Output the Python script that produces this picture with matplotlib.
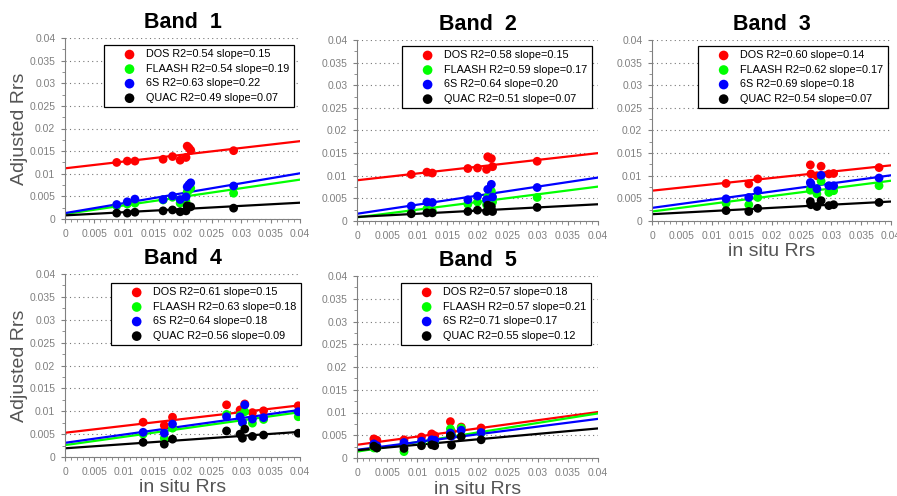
import matplotlib
matplotlib.use("Agg")
import matplotlib.pyplot as plt
from matplotlib.ticker import MultipleLocator, FuncFormatter
import numpy as np

plt.rcParams['font.family'] = ['Liberation Sans', 'DejaVu Sans']

# ---------------- data ----------------
methods = ["DOS", "FLAASH", "6S", "QUAC"]
colors = ["#ff0000", "#00ff00", "#0000ff", "#000000"]

band_titles = ["Band  1", "Band  2", "Band  3", "Band  4", "Band  5"]

# in situ Rrs (x) per band
x_b1 = [0.0088, 0.0106, 0.0119, 0.0167, 0.0183, 0.0196, 0.0206, 0.0208, 0.0211, 0.0214, 0.0287]
x_b2 = [0.0090, 0.0116, 0.0125, 0.0184, 0.0200, 0.0215, 0.0217, 0.0223, 0.0225, 0.0299]
x_b3 = [0.0124, 0.0162, 0.0177, 0.0265, 0.0266, 0.0276, 0.0283, 0.0296, 0.0304, 0.0380]
x_b4 = [0.0133, 0.0169, 0.0183, 0.0275, 0.0298, 0.0302, 0.0306, 0.0319, 0.0338, 0.0397]
x_b5 = [0.0028, 0.0033, 0.0078, 0.0107, 0.0124, 0.0129, 0.0155, 0.0157, 0.0173, 0.0206]

# adjusted Rrs per band, per method
dos_b1 = [0.0125, 0.0128, 0.0128, 0.0132, 0.0138, 0.0130, 0.0136, 0.0161, 0.0157, 0.0152, 0.0151]
fla_b1 = [0.0029, 0.0033, 0.0035, 0.0042, 0.0048, 0.0035, 0.0038, 0.0060, 0.0064, 0.0068, 0.0057]
s6_b1 = [0.0032, 0.0038, 0.0044, 0.0043, 0.0051, 0.0043, 0.0049, 0.0071, 0.0076, 0.0080, 0.0073]
qua_b1 = [0.0013, 0.0013, 0.0015, 0.0018, 0.0020, 0.0016, 0.0018, 0.0029, 0.0027, 0.0027, 0.0024]

dos_b2 = [0.0103, 0.0108, 0.0106, 0.0116, 0.0117, 0.0114, 0.0142, 0.0138, 0.0120, 0.0132]
fla_b2 = [0.0020, 0.0027, 0.0022, 0.0037, 0.0042, 0.0036, 0.0053, 0.0066, 0.0042, 0.0052]
s6_b2 = [0.0033, 0.0042, 0.0041, 0.0047, 0.0055, 0.0047, 0.0070, 0.0081, 0.0053, 0.0074]
qua_b2 = [0.0016, 0.0018, 0.0018, 0.0021, 0.0024, 0.0021, 0.0035, 0.0032, 0.0021, 0.0030]

dos_b3 = [0.0083, 0.0082, 0.0093, 0.0124, 0.0104, 0.0100, 0.0121, 0.0104, 0.0105, 0.0118]
fla_b3 = [0.0039, 0.0036, 0.0052, 0.0068, 0.0074, 0.0060, 0.0088, 0.0063, 0.0067, 0.0078]
s6_b3 = [0.0049, 0.0052, 0.0067, 0.0085, 0.0082, 0.0071, 0.0101, 0.0078, 0.0078, 0.0095]
qua_b3 = [0.0023, 0.0021, 0.0028, 0.0043, 0.0036, 0.0032, 0.0045, 0.0034, 0.0036, 0.0041]

dos_b4 = [0.0076, 0.0069, 0.0087, 0.0114, 0.0103, 0.0100, 0.0116, 0.0097, 0.0101, 0.0112]
fla_b4 = [0.0050, 0.0041, 0.0063, 0.0093, 0.0091, 0.0075, 0.0099, 0.0074, 0.0082, 0.0088]
s6_b4 = [0.0054, 0.0052, 0.0072, 0.0088, 0.0088, 0.0076, 0.0114, 0.0083, 0.0086, 0.0099]
qua_b4 = [0.0032, 0.0028, 0.0039, 0.0057, 0.0050, 0.0041, 0.0061, 0.0045, 0.0048, 0.0052]

dos_b5 = [0.0042, 0.0039, 0.0040, 0.0046, 0.0053, 0.0049, 0.0080, 0.0058, 0.0068, 0.0066]
fla_b5 = [0.0022, 0.0022, 0.0014, 0.0033, 0.0034, 0.0037, 0.0064, 0.0050, 0.0066, 0.0055]
s6_b5 = [0.0031, 0.0027, 0.0034, 0.0037, 0.0040, 0.0039, 0.0055, 0.0048, 0.0061, 0.0056]
qua_b5 = [0.0026, 0.0022, 0.0021, 0.0027, 0.0029, 0.0027, 0.0049, 0.0028, 0.0047, 0.0040]

# regression lines: intercepts (read) and slopes (from legend)
intercept_b1 = [0.0112, 0.0011, 0.0013, 0.0008]
intercept_b2 = [0.0090, 0.0008, 0.0016, 0.0009]
intercept_b3 = [0.0067, 0.0021, 0.0029, 0.0015]
intercept_b4 = [0.0053, 0.0026, 0.0031, 0.0019]
intercept_b5 = [0.0029, 0.0014, 0.0018, 0.0017]

r2_b1 = ["0.54", "0.54", "0.63", "0.49"]
r2_b2 = ["0.58", "0.59", "0.64", "0.51"]
r2_b3 = ["0.60", "0.62", "0.69", "0.54"]
r2_b4 = ["0.61", "0.63", "0.64", "0.56"]
r2_b5 = ["0.57", "0.57", "0.71", "0.55"]

slope_b1 = ["0.15", "0.19", "0.22", "0.07"]
slope_b2 = ["0.15", "0.17", "0.20", "0.07"]
slope_b3 = ["0.14", "0.17", "0.18", "0.07"]
slope_b4 = ["0.15", "0.18", "0.18", "0.09"]
slope_b5 = ["0.18", "0.21", "0.17", "0.12"]

bands = [
    (x_b1, [dos_b1, fla_b1, s6_b1, qua_b1], intercept_b1, r2_b1, slope_b1),
    (x_b2, [dos_b2, fla_b2, s6_b2, qua_b2], intercept_b2, r2_b2, slope_b2),
    (x_b3, [dos_b3, fla_b3, s6_b3, qua_b3], intercept_b3, r2_b3, slope_b3),
    (x_b4, [dos_b4, fla_b4, s6_b4, qua_b4], intercept_b4, r2_b4, slope_b4),
    (x_b5, [dos_b5, fla_b5, s6_b5, qua_b5], intercept_b5, r2_b5, slope_b5),
]

# ---------------- layout ----------------
W, H = 897, 496
fig = plt.figure(figsize=(W / 100, H / 100), dpi=100)

# (left, right, top, bottom) in pixels
boxes = [(65, 300, 38, 219), (357, 598, 40, 221), (652, 891, 40, 221),
         (65, 300, 274, 457), (357, 598, 276, 458)]
legend_anchor = [(0.974, 0.961), (0.975, 0.967), (0.987, 0.967),
                 (1.005, 0.951), (0.971, 0.962)]

gray = "#808080"
labgray = "#555555"
fmt = FuncFormatter(lambda v, p: "0" if abs(v) < 1e-12 else ("%g" % round(v, 4)))

for i, (bx, ys, ints, r2s, slopes) in enumerate(bands):
    l, r, t, b = boxes[i]
    ax = fig.add_axes([l / W, 1 - b / H, (r - l) / W, (b - t) / H])
    ax.set_xlim(0, 0.04)
    ax.set_ylim(0, 0.04)
    for j, m in enumerate(methods):
        s = float(slopes[j])
        xl = np.array([0.0, 0.04])
        ax.plot(xl, ints[j] + s * xl, color=colors[j], lw=1.6, zorder=2)
    for j, m in enumerate(methods):
        ax.scatter(bx, ys[j], s=40, color=colors[j], edgecolors='none', zorder=3,
                   label=f"{m} R2={r2s[j]} slope={slopes[j]}")
    ax.xaxis.set_major_locator(MultipleLocator(0.005))
    ax.xaxis.set_minor_locator(MultipleLocator(0.001))
    ax.yaxis.set_major_locator(MultipleLocator(0.005))
    ax.yaxis.set_minor_locator(MultipleLocator(0.0025))
    ax.xaxis.set_major_formatter(fmt)
    ax.yaxis.set_major_formatter(fmt)
    ax.tick_params(axis='both', which='major', labelsize=7.5, colors=gray,
                   labelcolor=gray, length=3, width=0.8, pad=4)
    ax.tick_params(axis='both', which='minor', colors=gray, length=2, width=0.6)
    for sp in ["top", "right"]:
        ax.spines[sp].set_visible(False)
    for sp in ["left", "bottom"]:
        ax.spines[sp].set_color(gray)
        ax.spines[sp].set_linewidth(0.8)
    ax.grid(axis='y', which='major', linestyle=(0, (1, 3)), color="#777777", lw=0.8)
    ax.set_axisbelow(True)
    ax.set_title(band_titles[i], fontsize=15.5, fontweight='bold', pad=7)
    leg = ax.legend(loc='upper right', bbox_to_anchor=legend_anchor[i],
                    fontsize=7.8, frameon=True, fancybox=False, framealpha=1,
                    edgecolor='black', handlelength=4.0, handletextpad=-0.45,
                    labelspacing=0.42, borderpad=0.4, borderaxespad=0,
                    markerscale=1.1)
    leg.get_frame().set_linewidth(0.9)
    if i in (0, 3):
        ax.set_ylabel("Adjusted Rrs", fontsize=14, color=labgray, labelpad=1)
    if i in (2, 3, 4):
        ax.set_xlabel("in situ Rrs", fontsize=14, color=labgray, labelpad=2)

fig.savefig("out.png", dpi=100)
